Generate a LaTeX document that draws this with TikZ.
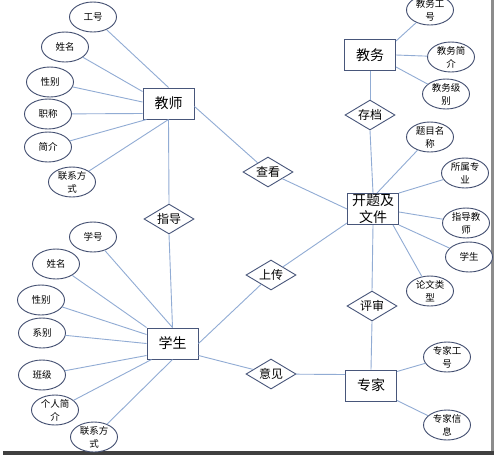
\documentclass[tikz,border=0pt]{standalone}
\usepackage{fontspec}
\setmainfont{Noto Sans CJK SC}
\usetikzlibrary{shapes.geometric}
\definecolor{edgeblue}{RGB}{145,172,212}
\definecolor{boxline}{RGB}{72,86,122}
\definecolor{ellline}{RGB}{66,78,112}
\begin{document}
\begin{tikzpicture}[x=1pt,y=-1pt,
  entity/.style={draw=boxline, line width=1pt, fill=white, minimum width=51pt, minimum height=31pt, inner sep=0pt, font=\fontsize{14}{17}\selectfont, align=center},
  rel/.style={diamond, draw=boxline, line width=0.9pt, fill=white, minimum width=50pt, minimum height=30pt, inner sep=0pt, shape aspect=2, font=\fontsize{12}{14}\selectfont},
  attr/.style={ellipse, draw=ellline, line width=0.9pt, fill=white, minimum width=47pt, minimum height=30pt, inner xsep=0pt, inner ysep=-5pt, font=\fontsize{9.5}{13}\selectfont, align=center},
  link/.style={draw=edgeblue, line width=0.9pt}]
\useasboundingbox (0,0) rectangle (497,458);
\fill[white] (0,0) rectangle (497,458);
% frame shadow
\fill[black!45] (491,0) rectangle (494,455);
\fill[black!75] (3,451) rectangle (494,455);

% entities
\node[entity] (js) at (168.5,103.5) {教师};
\node[entity] (jw) at (370,55) {教务};
\node[entity] (kt) at (373,209) {开题及\\文件};
\node[entity] (xs) at (172.5,343.5) {学生};
\node[entity] (zj) at (371,385.5) {专家};

% relations
\node[rel] (zd) at (169,219) {指导};
\node[rel] (ck) at (268,172) {查看};
\node[rel] (cd) at (370,115) {存档};
\node[rel] (sc) at (271,275) {上传};
\node[rel] (ps) at (372,306) {评审};
\node[rel] (yj) at (271,374) {意见};

% teacher attributes
\node[attr] (t1) at (93,17) {工号};
\node[attr] (t2) at (65,47) {姓名};
\node[attr] (t3) at (50,82) {性别};
\node[attr] (t4) at (48,114) {职称};
\node[attr] (t5) at (48,147) {简介};
\node[attr] (t6) at (72,182) {联系方\\式};

% student attributes
\node[attr] (s1) at (93,237) {学号};
\node[attr] (s2) at (56,264) {姓名};
\node[attr] (s3) at (41,300) {性别};
\node[attr] (s4) at (42,333) {系别};
\node[attr] (s5) at (42,375) {班级};
\node[attr] (s6) at (55,410) {个人简\\介};
\node[attr] (s7) at (94,437) {联系方\\式};

% jiaowu attributes
\node[attr] (w1) at (430,10) {教务工\\号};
\node[attr] (w2) at (451,57) {教务简\\介};
\node[attr] (w3) at (446,94) {教务级\\别};

% kaiti attributes
\node[attr] (k1) at (430,137) {题目名\\称};
\node[attr] (k2) at (465,173) {所属专\\业};
\node[attr] (k3) at (466,223) {指导教\\师};
\node[attr] (k4) at (469,257) {学生};
\node[attr] (k5) at (430,291) {论文类\\型};

% expert attributes
\node[attr] (z1) at (447,357) {专家工\\号};
\node[attr] (z2) at (447,425) {专家信\\息};

% connectors
\draw[link] (t1) -- (js.north);
\draw[link] (t2) -- ([yshift=-4pt]js.north west);
\draw[link] (t3) -- ([yshift=1.5pt]js.west);
\draw[link] (t4) -- ([yshift=6pt]js.south west);
\draw[link] (t5) -- ([xshift=4pt]js.south west);
\draw[link] (t6) -- (js.south);
\draw[link] (js.south) -- (zd.north);
\draw[link] (zd.south) -- (xs.north);
\draw[link] ([yshift=-3pt]js.east) -- (ck);
\draw[link] (ck) -- (kt.west);
\draw[link] (jw.south) -- (cd.north);
\draw[link] (cd.south) -- (kt.north);
\draw[link] (w1) -- ([yshift=-2pt]jw.north east);
\draw[link] (w2) -- (jw.east);
\draw[link] (w3) -- ([yshift=4pt]jw.south east);
\draw[link] (k1) -- ([xshift=4pt]kt.north);
\draw[link] (k2) -- (kt.north east);
\draw[link] (k3) -- ([yshift=-3pt]kt.east);
\draw[link] (k4) -- (kt.south east);
\draw[link] (k5) -- ([xshift=-6pt]kt.south east);
\draw[link] (kt.south) -- (ps.north);
\draw[link] (ps.south) -- (zj.north);
\draw[link] (xs.east) -- (sc);
\draw[link] (sc) -- ([yshift=2pt]kt.south west);
\draw[link] ([yshift=4pt]xs.south east) -- (yj);
\draw[link] (yj) -- ([yshift=-5pt]zj.north west);
\draw[link] (z1) -- ([yshift=-2pt]zj.north east);
\draw[link] (z2) -- ([yshift=1pt]zj.south east);
\draw[link] (s1) -- (xs.north);
\draw[link] (s2) -- (xs.north west);
\draw[link] (s3) -- ([yshift=-7pt]xs.north west);
\draw[link] (s4) -- (xs.west);
\draw[link] (s5) -- ([yshift=4pt]xs.south west);
\draw[link] (s6) -- ([xshift=5pt]xs.south west);
\draw[link] (s7) -- (xs.south);
\end{tikzpicture}
\end{document}
